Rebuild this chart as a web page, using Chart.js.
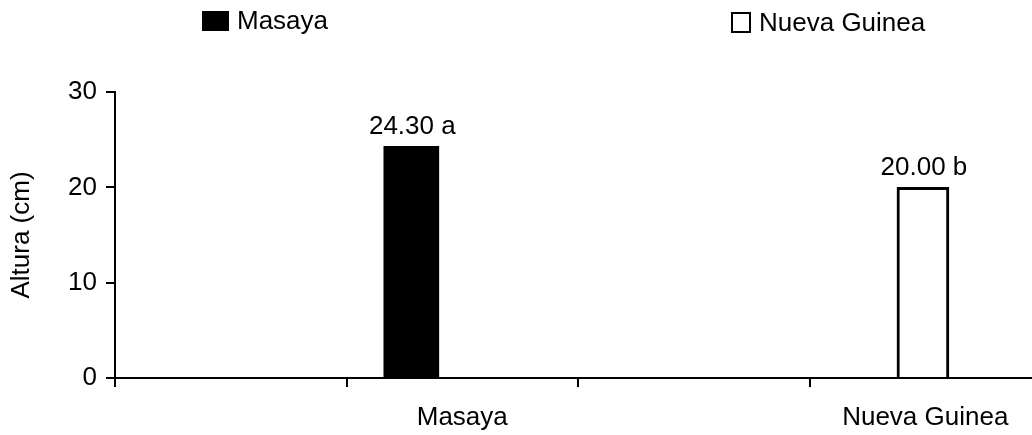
<!DOCTYPE html>
<html>
<head>
<meta charset="utf-8">
<script src="https://cdn.jsdelivr.net/npm/chart.js@4.4.1/dist/chart.umd.min.js"></script>
<style>
  html, body { margin: 0; padding: 0; background: #fff; overflow: hidden; }
  #wrap { width: 1032px; height: 435px; overflow: hidden; }
</style>
</head>
<body>
<div id="wrap"><canvas id="chart" width="1060" height="435"></canvas></div>
<script>
// data
const categories = ['', 'Masaya', '', 'Nueva Guinea'];
const seriesNames = ['Masaya', 'Nueva Guinea'];
const barPositions = [1.28, 3.49];   // where each bar sits along the category axis
const heights = [24.3, 20.0];
const barLabels = ['24.30 a', '20.00 b'];
const yTicks = [0, 10, 20, 30];

const FONT = "'Liberation Sans', Arial, sans-serif";
Chart.defaults.font.family = FONT;
Chart.defaults.color = '#000';

// labels above bars
const valueLabels = {
    id: 'valueLabels',
    afterDatasetsDraw(chart) {
        const ctx = chart.ctx;
        ctx.save();
        ctx.font = '26px ' + FONT;
        ctx.fillStyle = '#000';
        ctx.textAlign = 'center';
        ctx.textBaseline = 'alphabetic';
        chart.data.datasets.forEach((ds, i) => {
            const el = chart.getDatasetMeta(i).data[0];
            ctx.fillText(barLabels[i], el.x + 1, el.y - 12);
        });
        ctx.restore();
    }
};

// legend spread across the top like the original
const spreadLegend = {
    id: 'spreadLegend',
    afterDraw(chart, args, opts) {
        const ctx = chart.ctx;
        ctx.save();
        ctx.font = '26px ' + FONT;
        ctx.textBaseline = 'middle';
        ctx.textAlign = 'left';
        opts.items.forEach((it, i) => {
            const ds = chart.data.datasets[i];
            ctx.fillStyle = ds.backgroundColor;
            ctx.fillRect(it.x, it.y, it.w, it.h);
            ctx.lineWidth = 2;
            ctx.strokeStyle = '#000';
            ctx.strokeRect(it.x, it.y, it.w, it.h);
            ctx.fillStyle = '#000';
            ctx.fillText(ds.label, it.x + it.w + 9, it.y + it.h / 2 + 1);
        });
        ctx.restore();
    }
};

new Chart(document.getElementById('chart'), {
    type: 'bar',
    data: {
        datasets: [
            { label: seriesNames[0], data: [{ x: barPositions[0], y: heights[0] }], backgroundColor: '#000', borderColor: '#000', borderWidth: 0, barThickness: 55, grouped: false, xAxisID: 'xb' },
            { label: seriesNames[1], data: [{ x: barPositions[1], y: heights[1] }], backgroundColor: '#fff', borderColor: '#000', borderWidth: 3, barThickness: 52, grouped: false, xAxisID: 'xb' }
        ]
    },
    options: {
        responsive: false,
        animation: false,
        layout: { padding: { top: 92, left: 0, right: 19, bottom: 0 } },
        plugins: {
            legend: { display: false },
            tooltip: { enabled: false },
            spreadLegend: { items: [ { x: 203, y: 12, w: 25, h: 18 }, { x: 732, y: 13, w: 18, h: 19 } ] }
        },
        scales: {
            x: {
                type: 'category',
                labels: categories,
                offset: true,
                afterFit: s => { s.height = 57; },
                grid: { offset: true, drawOnChartArea: false, drawTicks: true, tickLength: 9, color: '#000', lineWidth: 2 },
                border: { display: true, color: '#000', width: 2 },
                ticks: { autoSkip: false, maxRotation: 0, padding: 15, font: { size: 26 }, color: '#000' }
            },
            xb: {
                type: 'linear',
                display: false,
                min: 0,
                max: categories.length,
                offset: false
            },
            y: {
                min: yTicks[0],
                max: yTicks[yTicks.length - 1],
                afterBuildTicks: s => { s.ticks = yTicks.map(v => ({ value: v })); },
                afterFit: s => { s.width = 115; },
                grid: { drawOnChartArea: false, drawTicks: true, tickLength: 9, color: '#000', lineWidth: 2 },
                border: { display: true, color: '#000', width: 2 },
                ticks: { padding: 9, font: { size: 26 }, color: '#000' },
                title: { display: true, text: 'Altura (cm)', font: { size: 26, lineHeight: 1 }, padding: { top: 9, bottom: 0 }, color: '#000' }
            }
        }
    },
    plugins: [valueLabels, spreadLegend]
});
</script>
</body>
</html>
